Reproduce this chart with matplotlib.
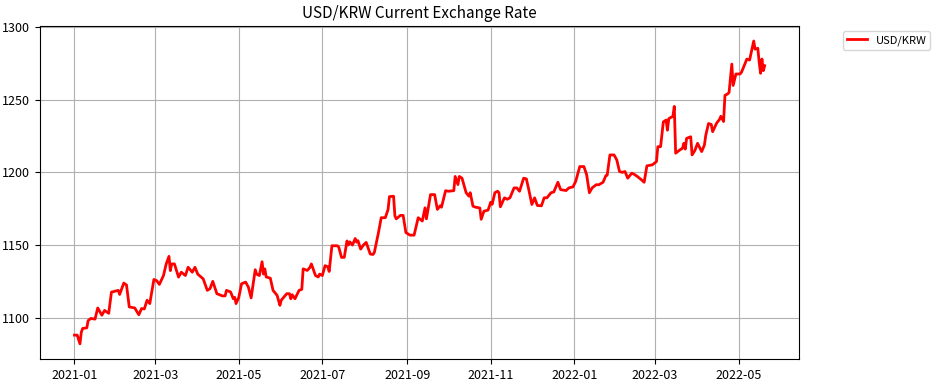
import numpy as np
import pandas as pd
import matplotlib
matplotlib.use('Agg')
import matplotlib.pyplot as plt
import matplotlib.dates as mdates

plt.rcParams['font.family'] = ['Noto Sans CJK KR', 'DejaVu Sans']

#Daily USD/KRW rate
dates = ['2021-01-01', '2021-01-03', '2021-01-05', '2021-01-06', '2021-01-07', '2021-01-10',
         '2021-01-11', '2021-01-13', '2021-01-16', '2021-01-18', '2021-01-21', '2021-01-23',
         '2021-01-26', '2021-01-28', '2021-02-02', '2021-02-03', '2021-02-06', '2021-02-08',
         '2021-02-10', '2021-02-14', '2021-02-17', '2021-02-19', '2021-02-21', '2021-02-23',
         '2021-02-25', '2021-02-28', '2021-03-02', '2021-03-04', '2021-03-07', '2021-03-09',
         '2021-03-11', '2021-03-12', '2021-03-13', '2021-03-15', '2021-03-18', '2021-03-20',
         '2021-03-23', '2021-03-25', '2021-03-28', '2021-03-30', '2021-04-01', '2021-04-05',
         '2021-04-08', '2021-04-10', '2021-04-12', '2021-04-15', '2021-04-19', '2021-04-21',
         '2021-04-22', '2021-04-25', '2021-04-27', '2021-04-28', '2021-04-29', '2021-05-01',
         '2021-05-03', '2021-05-06', '2021-05-08', '2021-05-10', '2021-05-13', '2021-05-14',
         '2021-05-16', '2021-05-18', '2021-05-19', '2021-05-20', '2021-05-21', '2021-05-24',
         '2021-05-26', '2021-05-29', '2021-05-31', '2021-06-01', '2021-06-05', '2021-06-07',
         '2021-06-08', '2021-06-09', '2021-06-11', '2021-06-14', '2021-06-16', '2021-06-17',
         '2021-06-20', '2021-06-22', '2021-06-23', '2021-06-26', '2021-06-28', '2021-06-29',
         '2021-07-01', '2021-07-03', '2021-07-05', '2021-07-06', '2021-07-08', '2021-07-12',
         '2021-07-13', '2021-07-15', '2021-07-17', '2021-07-19', '2021-07-20', '2021-07-21',
         '2021-07-23', '2021-07-25', '2021-07-26', '2021-07-27', '2021-07-29', '2021-07-31',
         '2021-08-02', '2021-08-05', '2021-08-07', '2021-08-08', '2021-08-11', '2021-08-13',
         '2021-08-16', '2021-08-18', '2021-08-19', '2021-08-22', '2021-08-23', '2021-08-24',
         '2021-08-27', '2021-08-29', '2021-08-31', '2021-09-03', '2021-09-06', '2021-09-07',
         '2021-09-09', '2021-09-12', '2021-09-14', '2021-09-15', '2021-09-18', '2021-09-21',
         '2021-09-23', '2021-09-25', '2021-09-26', '2021-09-29', '2021-10-01', '2021-10-05',
         '2021-10-06', '2021-10-08', '2021-10-09', '2021-10-11', '2021-10-14', '2021-10-16',
         '2021-10-17', '2021-10-19', '2021-10-21', '2021-10-24', '2021-10-25', '2021-10-27',
         '2021-10-30', '2021-11-01', '2021-11-02', '2021-11-04', '2021-11-06', '2021-11-07',
         '2021-11-08', '2021-11-11', '2021-11-13', '2021-11-15', '2021-11-18', '2021-11-20',
         '2021-11-22', '2021-11-25', '2021-11-27', '2021-11-29', '2021-12-01', '2021-12-03',
         '2021-12-05', '2021-12-08', '2021-12-10', '2021-12-12', '2021-12-15', '2021-12-17',
         '2021-12-20', '2021-12-22', '2021-12-26', '2021-12-28', '2021-12-31', '2022-01-02',
         '2022-01-05', '2022-01-08', '2022-01-10', '2022-01-12', '2022-01-14', '2022-01-17',
         '2022-01-19', '2022-01-22', '2022-01-24', '2022-01-25', '2022-01-27', '2022-01-30',
         '2022-02-01', '2022-02-03', '2022-02-05', '2022-02-07', '2022-02-09', '2022-02-12',
         '2022-02-14', '2022-02-16', '2022-02-19', '2022-02-21', '2022-02-23', '2022-02-27',
         '2022-03-02', '2022-03-03', '2022-03-05', '2022-03-07', '2022-03-09', '2022-03-10',
         '2022-03-11', '2022-03-14', '2022-03-15', '2022-03-16', '2022-03-19', '2022-03-21',
         '2022-03-22', '2022-03-23', '2022-03-24', '2022-03-27', '2022-03-28', '2022-03-30',
         '2022-04-01', '2022-04-04', '2022-04-06', '2022-04-07', '2022-04-09', '2022-04-11',
         '2022-04-12', '2022-04-15', '2022-04-17', '2022-04-18', '2022-04-20', '2022-04-21',
         '2022-04-23', '2022-04-24', '2022-04-26', '2022-04-27', '2022-04-29', '2022-05-02',
         '2022-05-03', '2022-05-04', '2022-05-07', '2022-05-09', '2022-05-12', '2022-05-13',
         '2022-05-15', '2022-05-16', '2022-05-17', '2022-05-18', '2022-05-19', '2022-05-20']

rates = [1088.0, 1088.0, 1082.0, 1090.0, 1092.6, 1093.0,
         1098.0, 1099.5, 1099.0, 1106.7, 1101.7, 1105.0,
         1103.0, 1117.6, 1118.8, 1116.0, 1123.8, 1122.5,
         1107.4, 1106.7, 1102.0, 1106.3, 1106.0, 1112.0,
         1109.7, 1126.3, 1125.5, 1122.9, 1129.0, 1137.0,
         1142.2, 1132.4, 1137.0, 1137.0, 1127.9, 1131.3,
         1129.0, 1134.7, 1131.3, 1134.7, 1130.0, 1126.7,
         1118.8, 1120.0, 1125.0, 1116.5, 1115.0, 1115.0,
         1118.8, 1117.7, 1113.0, 1114.0, 1109.7, 1114.0,
         1123.3, 1124.5, 1121.0, 1113.6, 1133.0, 1130.0,
         1129.0, 1138.5, 1130.0, 1133.6, 1128.0, 1127.2,
         1118.8, 1115.3, 1108.5, 1112.0, 1116.5, 1116.5,
         1113.0, 1115.8, 1113.0, 1118.8, 1119.5, 1133.6,
         1132.5, 1134.7, 1137.0, 1129.0, 1128.0, 1130.0,
         1129.0, 1135.8, 1135.0, 1131.8, 1149.5, 1149.5,
         1148.5, 1141.5, 1141.5, 1152.8, 1150.0, 1152.2,
         1150.0, 1154.5, 1152.0, 1153.0, 1147.2, 1150.0,
         1151.8, 1143.8, 1143.5, 1145.0, 1158.6, 1168.8,
         1168.8, 1174.5, 1183.3, 1183.6, 1170.0, 1168.0,
         1170.4, 1170.4, 1158.6, 1156.8, 1156.8, 1160.8,
         1168.8, 1166.5, 1175.6, 1168.0, 1184.7, 1184.7,
         1174.5, 1177.0, 1176.0, 1187.4, 1187.0, 1187.4,
         1197.2, 1191.6, 1197.2, 1196.0, 1186.0, 1183.6,
         1186.0, 1176.7, 1176.0, 1175.5, 1167.7, 1173.3,
         1174.0, 1179.5, 1178.0, 1186.0, 1187.0, 1186.0,
         1176.3, 1182.5, 1181.5, 1182.5, 1189.3, 1189.3,
         1187.0, 1196.0, 1195.5, 1187.0, 1177.9, 1182.5,
         1177.2, 1177.0, 1182.5, 1182.5, 1186.0, 1186.5,
         1193.2, 1188.1, 1187.5, 1189.3, 1190.0, 1193.8,
         1204.0, 1204.0, 1198.4, 1186.0, 1189.3, 1191.5,
         1191.5, 1193.2, 1197.7, 1198.0, 1212.0, 1212.0,
         1208.6, 1200.6, 1200.0, 1200.6, 1196.0, 1199.5,
         1198.5, 1197.2, 1194.9, 1193.2, 1204.5, 1205.2,
         1207.4, 1217.7, 1217.7, 1234.7, 1236.0, 1229.0,
         1237.0, 1238.6, 1245.4, 1213.2, 1215.4, 1216.6,
         1220.0, 1216.0, 1223.4, 1224.5, 1212.0, 1215.0,
         1220.0, 1214.3, 1218.8, 1225.6, 1233.6, 1233.0,
         1228.0, 1234.0, 1236.4, 1238.6, 1235.0, 1253.0,
         1254.0, 1255.0, 1274.5, 1259.8, 1267.7, 1267.7,
         1268.8, 1271.0, 1278.0, 1277.3, 1290.4, 1284.8,
         1285.4, 1275.7, 1268.2, 1278.0, 1270.0, 1273.4]

df = pd.DataFrame({'Date': pd.to_datetime(dates), 'Close': rates})

fig = plt.figure(figsize=(9.38, 3.86), dpi=100)
ax = fig.add_axes([0.0426, 0.07, 0.8094, 0.863])
ax.plot(df['Date'], df['Close'], color='red', linewidth=2, label='USD/KRW')

ax.set_title('USD/KRW Current Exchange Rate', fontsize=11)
ax.xaxis.set_major_locator(mdates.MonthLocator(bymonth=[1, 3, 5, 7, 9, 11]))
ax.xaxis.set_major_formatter(mdates.DateFormatter('%Y-%m'))
ax.set_yticks([1100, 1150, 1200, 1250, 1300])
ax.tick_params(labelsize=9)
ax.grid(True)
ax.legend(bbox_to_anchor=(1.05, 1), loc='upper left', fontsize=8,
          handlelength=1.8, borderpad=0.35)

fig.savefig('out.png', dpi=100)
